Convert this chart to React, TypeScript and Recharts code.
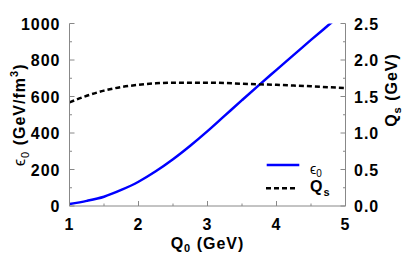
import React from 'react';
import { LineChart, Line, XAxis, YAxis } from 'recharts';

// Q0 grid (GeV) and the two curves
const q0 = [1, 1.25, 1.5, 1.75, 2, 2.25, 2.5, 2.75, 3, 3.25, 3.5, 3.75, 4, 4.25, 4.5, 4.75, 5];
const eps0 = [11, 28, 51, 88, 133, 190, 256, 330, 410, 495, 580, 664, 746, 828, 910, 990, 1070];
const qs = [1.42, 1.51, 1.58, 1.63, 1.66, 1.68, 1.69, 1.69, 1.69, 1.685, 1.675, 1.667, 1.66, 1.65, 1.64, 1.628, 1.616];

const xTicks = [1, 1.5, 2, 2.5, 3, 3.5, 4, 4.5, 5];
const leftTicks = [0, 100, 200, 300, 400, 500, 600, 700, 800, 900, 1000];
const rightTicks = [0, 0.25, 0.5, 0.75, 1, 1.25, 1.5, 1.75, 2, 2.25, 2.5];

const data = q0.map((q, i) => ({ q0: q, eps0: eps0[i], qs: qs[i] }));

const FONT = '"Liberation Sans", Arial, sans-serif';
const FRAME = '#888';
const tickFont = { fontFamily: FONT, fontSize: 16, fontWeight: 'bold', letterSpacing: 1, fill: '#000' };

const isMajor = (v: number, step: number) => Math.abs(v / step - Math.round(v / step)) < 1e-6;

function LeftTick({ x, y, payload }: any) {
  const major = isMajor(payload.value, 200);
  return (
    <g>
      <line x1={x} x2={x + (major ? 5 : 2.5)} y1={y} y2={y} stroke={FRAME} />
      {major && (
        <text x={x - 9} y={y + 6} textAnchor="end" style={tickFont}>
          {payload.value}
        </text>
      )}
    </g>
  );
}

function RightTick({ x, y, payload }: any) {
  const major = isMajor(payload.value, 0.5);
  return (
    <g>
      <line x1={x} x2={x - (major ? 5 : 2.5)} y1={y} y2={y} stroke={FRAME} />
      {major && (
        <text x={x + 8.5} y={y + 6} textAnchor="start" style={tickFont}>
          {payload.value.toFixed(1)}
        </text>
      )}
    </g>
  );
}

function BottomTick({ x, y, payload }: any) {
  const major = isMajor(payload.value, 1);
  return (
    <g>
      <line x1={x} x2={x} y1={y} y2={y - (major ? 5 : 2.5)} stroke={FRAME} />
      {major && (
        <text x={x} y={y + 23.5} textAnchor="middle" style={tickFont}>
          {payload.value}
        </text>
      )}
    </g>
  );
}

function TopTick({ x, y, payload }: any) {
  const major = isMajor(payload.value, 1);
  return <line x1={x} x2={x} y1={y} y2={y + (major ? 5 : 2.5)} stroke={FRAME} />;
}

function LeftLabel({ viewBox }: any) {
  const cx = viewBox.x + 19;
  const cy = viewBox.y + viewBox.height / 2;
  return (
    <text
      transform={`rotate(-90 ${cx} ${cy})`}
      x={cx}
      y={cy + 5.5}
      textAnchor="middle"
      style={{ ...tickFont }}
    >
      <tspan fontWeight="normal">ϵ</tspan>
      <tspan fontWeight="normal" fontSize={11} dy={4}>0</tspan>
      <tspan dy={-4}> (GeV/fm</tspan>
      <tspan fontSize={11} dy={-7}>3</tspan>
      <tspan dy={7}>)</tspan>
    </text>
  );
}

function RightLabel({ viewBox }: any) {
  const cx = viewBox.x + 45.5;
  const cy = viewBox.y + 66.5;
  return (
    <text transform={`rotate(-90 ${cx} ${cy})`} x={cx} y={cy + 5.5} textAnchor="middle" style={tickFont}>
      <tspan>Q</tspan>
      <tspan fontSize={11} dy={4}>s</tspan>
      <tspan dy={-4}> (GeV)</tspan>
    </text>
  );
}

function BottomLabel({ viewBox }: any) {
  const cx = viewBox.x + viewBox.width / 2;
  const cy = viewBox.y + 43;
  return (
    <text x={cx} y={cy} textAnchor="middle" style={tickFont}>
      <tspan>Q</tspan>
      <tspan fontSize={11} dy={3}>0</tspan>
      <tspan dy={-3}> (GeV)</tspan>
    </text>
  );
}

function KeyBox() {
  return (
    <svg
      width={80}
      height={45}
      style={{ position: 'absolute', left: 262, top: 155, overflow: 'visible' }}
    >
      <line x1={4.7} x2={37.3} y1={10} y2={10} stroke="#0000ff" strokeWidth={2.5} />
      <text x={48} y={19} style={{ fontFamily: FONT, fontSize: 14, fill: '#000' }}>
        <tspan>ϵ</tspan>
        <tspan fontSize={10} dy={2.5}>0</tspan>
      </text>
      <line x1={4} x2={34} y1={33.3} y2={33.3} stroke="#000" strokeWidth={2.5} strokeDasharray="5 3" />
      <text x={48} y={37} style={tickFont}>
        <tspan>Q</tspan>
        <tspan fontSize={11} dy={4}>s</tspan>
      </text>
    </svg>
  );
}

export default function App() {
  return (
    <div style={{ position: 'absolute', left: 0, top: 0, width: 415, height: 254, background: '#fff' }}>
      <LineChart
        width={415}
        height={254}
        data={data}
        margin={{ top: 23.5, right: 0, bottom: 0, left: 0 }}
      >
        <XAxis
          dataKey="q0"
          type="number"
          domain={[1, 5]}
          ticks={xTicks}
          interval={0}
          height={48}
          stroke={FRAME}
          tickLine={false}
          tickSize={0}
          tickMargin={0}
          tick={<BottomTick />}
          label={<BottomLabel />}
        />
        <XAxis
          xAxisId="top"
          orientation="top"
          dataKey="q0"
          type="number"
          domain={[1, 5]}
          ticks={xTicks}
          interval={0}
          height={0}
          stroke={FRAME}
          tickLine={false}
          tickSize={0}
          tickMargin={0}
          tick={<TopTick />}
        />
        <YAxis
          yAxisId="left"
          type="number"
          domain={[0, 1000]}
          allowDataOverflow
          ticks={leftTicks}
          interval={0}
          width={69.5}
          stroke={FRAME}
          tickLine={false}
          tickSize={0}
          tickMargin={0}
          tick={<LeftTick />}
          label={<LeftLabel />}
        />
        <YAxis
          yAxisId="right"
          orientation="right"
          type="number"
          domain={[0, 2.5]}
          allowDataOverflow
          ticks={rightTicks}
          interval={0}
          width={69.5}
          stroke={FRAME}
          tickLine={false}
          tickSize={0}
          tickMargin={0}
          tick={<RightTick />}
          label={<RightLabel />}
        />
        <Line
          yAxisId="left"
          dataKey="eps0"
          type="monotone"
          stroke="#0000ff"
          strokeWidth={2.5}
          dot={false}
          isAnimationActive={false}
        />
        <Line
          yAxisId="right"
          dataKey="qs"
          type="monotone"
          stroke="#000"
          strokeWidth={2.5}
          strokeDasharray="5 3"
          dot={false}
          isAnimationActive={false}
        />
      </LineChart>
      <KeyBox />
    </div>
  );
}
